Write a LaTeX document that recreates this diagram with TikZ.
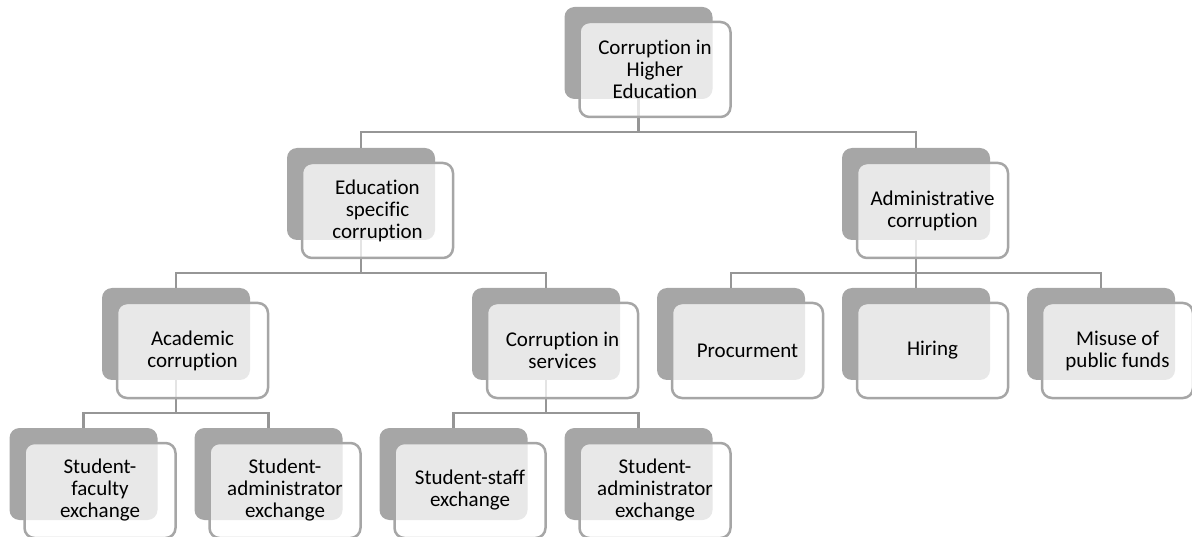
\documentclass[tikz,border=0pt]{standalone}
\usepackage{fontspec}
\setmainfont{Carlito}[Ligatures={NoCommon}]
\usepackage{tikz}

\definecolor{boxgray}{RGB}{166,166,166}
\definecolor{linegray}{RGB}{150,150,150}

\begin{document}
\begin{tikzpicture}%
    [x=1pt, y=-1pt,
    back/.style={rectangle, rounded corners=10pt, fill=boxgray, minimum width=148pt, minimum height=92pt, inner sep=0pt},
    front/.style={rectangle, rounded corners=10pt, draw=boxgray, line width=2.5pt, fill=white, fill opacity=0.75, text opacity=1,
                  minimum width=151pt, minimum height=95pt, inner sep=0pt, align=center, font=\fontsize{21}{22}\selectfont},
    link/.style={draw=linegray, line width=2.8pt}]

    \useasboundingbox (0,0) rectangle (1192,537);

    \node [back] (chi) at (638.5, 53) {};

    \node [back] (edu) at (361, 194) {};
    \node [back] (adm) at (916, 194) {};

    \node [back] (aca) at ( 176, 334) {};
    \node [back] (srv) at ( 546, 334) {};
    \node [back] (pro) at ( 731, 334) {};
    \node [back] (hir) at ( 916, 334) {};
    \node [back] (mis) at (1101, 334) {};

    \node [back] (sfe)  at ( 83.5, 474) {};
    \node [back] (sae)  at (268.5, 474) {};
    \node [back] (sse)  at (453.5, 474) {};
    \node [back] (sae2) at (638.5, 474) {};

    \coordinate (bus1) at (0, 132);
    \coordinate (bus2) at (0, 273);
    \coordinate (bus3) at (0, 413);

    \draw [link] (chi.south) -- (chi.south |- bus1);
    \draw [link] (edu.north) |- (bus1 -| adm.north) -- (adm.north);

    \draw [link] (edu.south) -- (edu.south |- bus2);
    \draw [link] (aca.north) |- (bus2 -| srv.north) -- (srv.north);
    \draw [link] (adm.south) -- (adm.south |- bus2);
    \draw [link] (pro.north) |- (bus2 -| mis.north) -- (mis.north);
    \draw [link] (hir.north) -- (hir.north |- bus2);

    \draw [link] (aca.south) -- (aca.south |- bus3);
    \draw [link] (sfe.north) |- (bus3 -| sae.north) -- (sae.north);
    \draw [link] (srv.south) -- (srv.south |- bus3);
    \draw [link] (sse.north) |- (bus3 -| sae2.north) -- (sae2.north);

    \node [front] (chi-t)  at ([xshift=16.5pt, yshift=-16.5pt]chi.center)  {Corruption in\\Higher\\Education};
    \node [front] (edu-t)  at ([xshift=16.5pt, yshift=-16.5pt]edu.center)  {Education\\specific\\corruption};
    \node [front] (adm-t)  at ([xshift=16.5pt, yshift=-16.5pt]adm.center)  {Administrative\\corruption};
    \node [front] (aca-t)  at ([xshift=16.5pt, yshift=-16.5pt]aca.center)  {Academic\\corruption};
    \node [front] (srv-t)  at ([xshift=16.5pt, yshift=-16.5pt]srv.center)  {Corruption in\\services};
    \node [front] (pro-t)  at ([xshift=16.5pt, yshift=-16.5pt]pro.center)  {Procurment};
    \node [front] (hir-t)  at ([xshift=16.5pt, yshift=-16.5pt]hir.center)  {Hiring};
    \node [front] (mis-t)  at ([xshift=16.5pt, yshift=-16.5pt]mis.center)  {Misuse of\\public funds};
    \node [front] (sfe-t)  at ([xshift=16.5pt, yshift=-16.5pt]sfe.center)  {Student-\\faculty\\exchange};
    \node [front] (sae-t)  at ([xshift=16.5pt, yshift=-16.5pt]sae.center)  {Student-\\administrator\\exchange};
    \node [front] (sse-t)  at ([xshift=16.5pt, yshift=-16.5pt]sse.center)  {Student-staff\\exchange};
    \node [front] (sae2-t) at ([xshift=16.5pt, yshift=-16.5pt]sae2.center) {Student-\\administrator\\exchange};
  \end{tikzpicture}
\end{document}
